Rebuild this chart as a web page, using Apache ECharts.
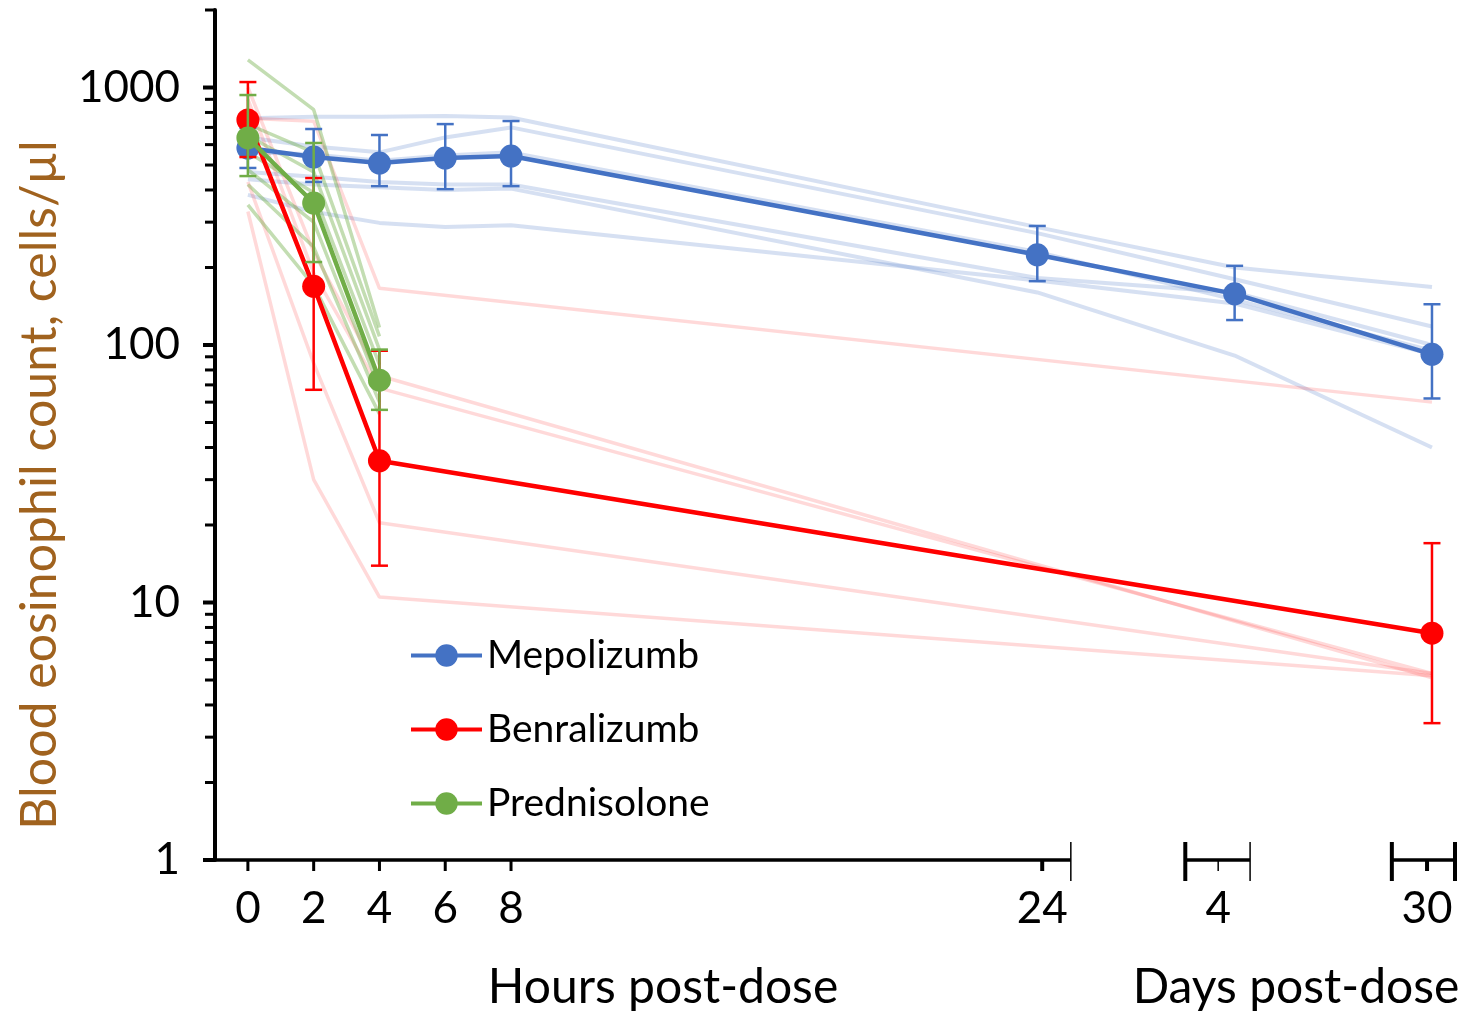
<!DOCTYPE html>
<html>
<head>
<meta charset="utf-8">
<title>Blood eosinophil count after dosing</title>
<script src="https://cdn.jsdelivr.net/npm/echarts@6.0.0/dist/echarts.min.js"></script>
<style>
  html, body { margin: 0; padding: 0; background: #ffffff; }
  #chart { width: 1467px; height: 1015px; }
</style>
</head>
<body>
<div id="chart"></div>
<script>
// Sampling times on a broken axis: hours 0-24 on a linear hour scale,
// then day 4 and day 30 packed in after the break.
const timeLabels  = ['0', '2', '4', '6', '8', '24', '4', '30'];
const timeAxisPos = [0, 2, 4, 6, 8, 24, 30, 36];
// where each tick and its label sit on that axis
const tickAxisPos = [0, 2, 4, 6, 8, 24.15, 29.5, 35.85];

// y axis (log): labelled decades and the minor ticks in between
const yLabelValues = [1, 10, 100, 1000];
const yMinorValues = [2, 3, 4, 5, 6, 7, 8, 9,
                      20, 30, 40, 50, 60, 70, 80, 90,
                      200, 300, 400, 500, 600, 700, 800, 900, 2000];

// Group means with lower / upper error limits, cells/µl (null = not sampled)
const mepoMean  = [582, 537, 509, 532, 542, 224, 158, 92];
const mepoLow   = [487, 430, 414, 403, 414, 177, 125, 62];
const mepoHigh  = [697, 690, 654, 721, 741, 290, 203, 144];

const benraMean = [748, 169, 35.5, null, null, null, null, 7.6];
const benraLow  = [537, 67, 13.9, null, null, null, null, 3.4];
const benraHigh = [1050, 445, 95, null, null, null, null, 17];

const predMean  = [637, 356, 73, null, null, null, null, null];
const predLow   = [453, 210, 56, null, null, null, null, null];
const predHigh  = [935, 609, 96, null, null, null, null, null];

// Individual patients
const mepoPatients = [
  [760, 770, 770, 775, 765, 287, 200, 168],
  [640, 590, 560, 640, 700, 272, 180, 118],
  [560, 550, 520, 545, 560, 230, 150, 95],
  [470, 450, 430, 420, 420, 182, 160, 100],
  [440, 420, 410, 400, 405, 160, 91, 40],
  [383, 329, 298, 287, 292, 178, 145, 92]
];
const benraPatients = [
  [760, 740, 166, null, null, null, null, 60],
  [330, 30, 10.5, null, null, null, null, 5.2],
  [430, 85, 20.4, null, null, null, null, 5.3],
  [1000, 230, 76, null, null, null, null, 5.1],
  [900, 190, 68, null, null, null, null, 5.3]
];
const predPatients = [
  [1280, 820, 117],
  [720, 560, 108],
  [650, 470, 96],
  [560, 390, 84],
  [480, 300, 68],
  [420, 240, 60],
  [350, 170, 54]
];

const BLUE = '#4472C4', RED = '#FF0000', GREEN = '#70AD47';
const FONT = 'Lato, "Open Sans", sans-serif';

function toPoints(values) {
  const pts = [];
  values.forEach((v, i) => { if (v != null) pts.push([timeAxisPos[i], v]); });
  return pts;
}

function patientSeries(rows, color, width) {
  return rows.map(row => ({
    type: 'line',
    data: toPoints(row),
    symbol: 'none',
    silent: true,
    z: 1,
    lineStyle: { color: color, width: width },
    emphasis: { disabled: true }
  }));
}

function meanSeries(name, values, color, z) {
  return {
    type: 'line',
    name: name,
    data: toPoints(values),
    symbol: 'circle',
    symbolSize: 23,
    z: z,
    itemStyle: { color: color },
    lineStyle: { color: color, width: 4.5 },
    emphasis: { disabled: true }
  };
}

function errorSeries(low, high, color, z) {
  const data = [];
  low.forEach((l, i) => { if (l != null) data.push([timeAxisPos[i], l, high[i]]); });
  return {
    type: 'custom',
    silent: true,
    z: z,
    data: data,
    encode: { x: 0, y: [1, 2] },
    renderItem: function (params, api) {
      const x = api.value(0);
      const a = api.coord([x, api.value(1)]);
      const b = api.coord([x, api.value(2)]);
      const half = 8.5;
      const style = { stroke: color, lineWidth: 2.5, fill: null };
      return {
        type: 'group',
        children: [
          { type: 'line', shape: { x1: a[0], y1: a[1], x2: b[0], y2: b[1] }, style: style },
          { type: 'line', shape: { x1: a[0] - half, y1: a[1], x2: a[0] + half, y2: a[1] }, style: style },
          { type: 'line', shape: { x1: b[0] - half, y1: b[1], x2: b[0] + half, y2: b[1] }, style: style }
        ]
      };
    }
  };
}

const chart = echarts.init(document.getElementById('chart'), null, { renderer: 'canvas' });

chart.setOption({
  animation: false,
  backgroundColor: '#ffffff',
  grid: { left: 215, right: 12, top: 10, bottom: 155, containLabel: false },
  xAxis: {
    type: 'value',
    min: -1,
    max: 36.7,
    splitLine: { show: false },
    axisLine: { show: false },
    axisTick: { show: false },
    axisLabel: {
      customValues: tickAxisPos,
      margin: 27,
      fontSize: 44,
      fontFamily: FONT,
      color: '#000',
      formatter: function (v) {
        const i = tickAxisPos.findIndex(t => Math.abs(t - v) < 1e-6);
        return i >= 0 ? timeLabels[i] : '';
      }
    }
  },
  yAxis: {
    type: 'log',
    logBase: 10,
    min: 1,
    max: 2000,
    splitLine: { show: false },
    axisLine: { show: true, onZero: false, lineStyle: { color: '#000', width: 4 } },
    axisTick: { show: false },
    axisLabel: {
      margin: 35,
      fontSize: 44,
      fontFamily: FONT,
      color: '#000',
      formatter: function (v) {
        const r = Math.round(v);
        return yLabelValues.indexOf(r) >= 0 && Math.abs(v - r) < 1e-6 ? String(r) : '';
      }
    }
  },
  legend: {
    data: ['Mepolizumb', 'Benralizumb', 'Prednisolone'],
    orient: 'vertical',
    left: 409,
    top: 636,
    padding: 0,
    itemWidth: 71,
    itemHeight: 28,
    itemGap: 35,
    selectedMode: false,
    lineStyle: { width: 4 },
    textStyle: { fontSize: 39, fontFamily: FONT, color: '#000' }
  },
  series: [].concat(
    patientSeries(mepoPatients, 'rgba(68,114,196,0.22)', 4),
    patientSeries(benraPatients, 'rgba(255,0,0,0.15)', 3.5),
    patientSeries(predPatients, 'rgba(112,173,71,0.42)', 3.5),
    [
      errorSeries(mepoLow, mepoHigh, BLUE, 3),
      meanSeries('Mepolizumb', mepoMean, BLUE, 3),
      errorSeries(benraLow, benraHigh, RED, 4),
      meanSeries('Benralizumb', benraMean, RED, 4),
      errorSeries(predLow, predHigh, GREEN, 5),
      meanSeries('Prednisolone', predMean, GREEN, 5)
    ]
  )
});

// Axis furniture: broken x axis with bracketed day segments, ticks on both axes
function px(v) { return chart.convertToPixel({ xAxisIndex: 0 }, v); }
function py(v) { return chart.convertToPixel({ yAxisIndex: 0 }, v); }

const axisY = py(1);
const yAxisX = px(-1);
const black = '#000';
const shapes = [];

function seg(x1, y1, x2, y2, w) {
  shapes.push({
    type: 'line', silent: true, z: 10,
    shape: { x1: x1, y1: y1, x2: x2, y2: y2 },
    style: { stroke: black, lineWidth: w }
  });
}

// hour segment, then the day 4 and day 30 brackets
const xSegments = [[-1, 25.02], [28.5, 30.47], [34.78, 36.7]];
xSegments.forEach((s, i) => seg(i === 0 ? yAxisX - 12 : px(s[0]), axisY, px(s[1]), axisY, 3.5));
const breakBars = [[25.02, 1.5], [28.5, 4], [30.47, 1.5], [34.78, 4], [36.7, 4]];
breakBars.forEach(b => seg(px(b[0]), axisY - 18, px(b[0]), axisY + 21, b[1]));
const tickWidths = [3, 3, 3, 3, 3, 4, 1.5, 4];
tickAxisPos.forEach((t, i) => seg(px(t), axisY, px(t), axisY + 11, tickWidths[i]));

yLabelValues.forEach(v => seg(yAxisX - 12, py(v), yAxisX, py(v), 4));
yMinorValues.forEach(v => seg(yAxisX - 10, py(v), yAxisX, py(v), 3));

// axis titles
shapes.push({
  type: 'text', silent: true, z: 10,
  x: 40, y: 485, rotation: Math.PI / 2,
  style: { text: 'Blood eosinophil count, cells/µl', font: '50px ' + FONT, fill: '#a0621e', align: 'center', verticalAlign: 'middle' }
});
shapes.push({
  type: 'text', silent: true, z: 10,
  x: 663, y: 988,
  style: { text: 'Hours post-dose', font: '48px ' + FONT, fill: black, align: 'center', verticalAlign: 'middle' }
});
shapes.push({
  type: 'text', silent: true, z: 10,
  x: 1296, y: 988,
  style: { text: 'Days post-dose', font: '48px ' + FONT, fill: black, align: 'center', verticalAlign: 'middle' }
});

chart.setOption({ graphic: shapes });
</script>
</body>
</html>
